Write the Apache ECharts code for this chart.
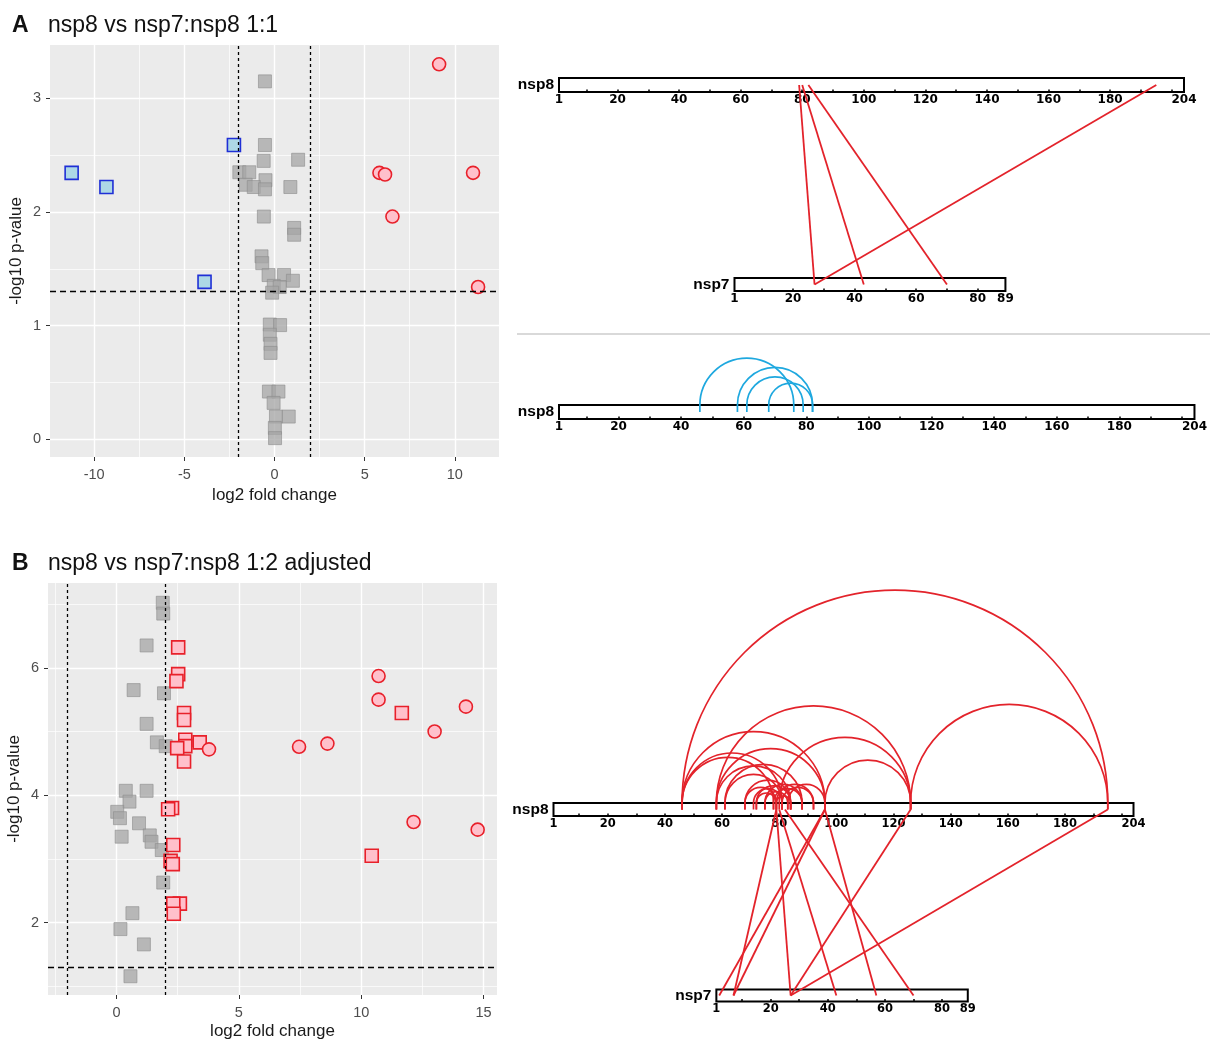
<!DOCTYPE html>
<html><head><meta charset="utf-8">
<script src="https://cdn.jsdelivr.net/npm/echarts@6/dist/echarts.min.js"></script>
<style>html,body{margin:0;padding:0;background:#fff}#c{width:1210px;height:1043px}</style>
</head><body><div id="c"></div>
<script>
// ---------------- data ----------------
// Panel A volcano: [log2 fold change, -log10 p]
const volA_gray = [[-0.53,3.15],[-0.53,2.59],[-0.6,2.45],[1.31,2.46],[-1.95,2.35],[-1.4,2.35],[-0.5,2.28],[-1.6,2.24],[-1.15,2.22],[-0.53,2.2],[0.88,2.22],[-0.59,1.96],[1.09,1.86],[1.09,1.80],[-0.72,1.61],[-0.68,1.55],[-0.33,1.445],[0.53,1.445],[1.02,1.395],[-0.04,1.35],[0.29,1.34],[-0.13,1.29],[-0.26,1.01],[0.31,1.005],[-0.26,0.92],[-0.22,0.84],[-0.22,0.76],[-0.31,0.42],[0.22,0.42],[-0.05,0.32],[0.08,0.2],[0.79,0.2],[0.02,0.1],[0.03,0.01]];
const volA_down = [[-11.25,2.345],[-9.32,2.22],[-3.88,1.385],[-2.25,2.59]];
const volA_up = [[9.13,3.30],[5.82,2.345],[6.13,2.33],[11.01,2.345],[6.54,1.96],[11.29,1.34]];
// Panel B volcano
const volB_gray = [[1.89,7.02],[1.91,6.85],[1.23,6.35],[0.7,5.65],[1.94,5.6],[1.23,5.12],[1.65,4.83],[2.01,4.77],[0.38,4.07],[1.23,4.07],[0.53,3.9],[0.03,3.74],[0.14,3.64],[0.92,3.56],[0.21,3.35],[1.36,3.37],[1.43,3.27],[1.85,3.14],[1.91,2.63],[0.65,2.15],[0.16,1.9],[1.12,1.66],[0.57,1.16]];
const volB_upSq = [[2.52,6.32],[2.52,5.9],[2.45,5.79],[2.76,5.29],[2.76,5.18],[2.81,4.87],[2.81,4.77],[3.4,4.83],[2.48,4.74],[2.76,4.53],[2.27,3.8],[2.11,3.78],[2.32,3.22],[2.21,2.97],[2.3,2.92],[2.59,2.3],[2.32,2.3],[2.34,2.14],[11.66,5.29],[10.43,3.05]];
const volB_upCi = [[3.78,4.72],[7.46,4.76],[8.62,4.81],[10.71,5.87],[10.71,5.5],[14.28,5.39],[13.0,5.0],[12.14,3.58],[14.76,3.46]];
const fcCut = [-2, 2];
const pCut = 1.3;
const volA_xTicks = [-10,-5,0,5,10], volA_xMinor = [-7.5,-2.5,2.5,7.5];
const volA_yTicks = [0,1,2,3], volA_yMinor = [0.5,1.5,2.5];
const volB_xTicks = [0,5,10,15], volB_xMinor = [-2.5,2.5,7.5,12.5];
const volB_yTicks = [2,4,6], volB_yMinor = [1,3,5,7];
// protein bars
const proteins = ['nsp8','nsp7'];
const nsp8Len = 204, nsp7Len = 89;
const nsp8TickVals = [10,20,30,40,50,60,70,80,90,100,110,120,130,140,150,160,170,180,190,200];
const nsp8LabelVals = [1,20,40,60,80,100,120,140,160,180,204];
const nsp7TickVals = [10,20,30,40,50,60,70,80];
const nsp7LabelVals = [1,20,40,60,80,89];
// crosslinks [nsp8 residue, nsp7 residue]
const interA = [[79,27],[80,43],[82,70],[195,27]];
// intra nsp8 links [residue, residue]
const intraA = [[46,76],[58,82],[61,79],[68,82]];
const interB = [[79,27],[80,43],[82,70],[96,57],[96,2],[96,7],[79,7],[126,27],[195,27]];
const intraB = [[46,195],[126,195],[58,126],[46,96],[80,126],[96,126],[46,81],[46,78],[58,96],[58,84],[61,81],[61,88],[68,79],[68,84],[71,81],[72,84],[75,83],[75,88],[78,88],[79,92],[81,92],[83,96],[79,84],[72,79]];

// ---------------- layout ----------------
const FONT = 'Liberation Sans';
const NSP7_SHIFT = 57; // nsp7 drawn aligned under nsp8 residue + shift
const RED = '#e3232b', BLUE = '#1ea8df';

const grids = [], xAxes = [], yAxes = [], series = [];

function volcano(g, xr, yr, xt, xm, yt, ym, xGap) {
  const gi = grids.length;
  grids.push({left:g[0], top:g[1], width:g[2], height:g[3], show:true, backgroundColor:'#ebebeb', borderWidth:0});
  const lab = {color:'#4d4d4d', fontSize:14.5, fontFamily:FONT};
  xAxes.push({type:'value', gridIndex:gi, min:xr[0], max:xr[1], name:'log2 fold change', nameLocation:'middle', nameGap:xGap,
    nameTextStyle:{fontSize:17, color:'#1a1a1a', fontFamily:FONT},
    axisLine:{show:false, onZero:false}, axisTick:{show:true, length:4, customValues:xt, lineStyle:{color:'#333'}},
    axisLabel:Object.assign({customValues:xt, margin:10}, lab),
    splitLine:{show:true, lineStyle:{color:'#fff', width:1.4}}});
  xAxes.push({type:'value', gridIndex:gi, position:'top', min:xr[0], max:xr[1], axisLine:{show:false, onZero:false}, axisLabel:{show:false},
    axisTick:{show:false, customValues:xm}, splitLine:{show:true, lineStyle:{color:'#fff', width:0.7}}});
  yAxes.push({type:'value', gridIndex:gi, min:yr[0], max:yr[1], name:'-log10 p-value', nameLocation:'middle', nameGap:25,
    nameTextStyle:{fontSize:17, color:'#1a1a1a', fontFamily:FONT},
    axisLine:{show:false, onZero:false}, axisTick:{show:true, length:4, customValues:yt, lineStyle:{color:'#333'}},
    axisLabel:Object.assign({customValues:yt, margin:9}, lab),
    splitLine:{show:true, lineStyle:{color:'#fff', width:1.4}}});
  yAxes.push({type:'value', gridIndex:gi, position:'right', min:yr[0], max:yr[1], axisLine:{show:false, onZero:false}, axisLabel:{show:false},
    axisTick:{show:false, customValues:ym}, splitLine:{show:true, lineStyle:{color:'#fff', width:0.7}}});
  return [xAxes.length-2, yAxes.length-2];
}
function scatter(ax, data, sym, fill, stroke, bw, z) {
  series.push({type:'scatter', xAxisIndex:ax[0], yAxisIndex:ax[1], data:data, symbol:sym, symbolSize:13, z:z,
    itemStyle:{color:fill, borderColor:stroke, borderWidth:bw, opacity:1}, emphasis:{disabled:true}, silent:true});
}
function cutLines(ax) {
  series.push({type:'scatter', xAxisIndex:ax[0], yAxisIndex:ax[1], data:[], z:6, silent:true,
    markLine:{silent:true, symbol:'none', animation:false, label:{show:false},
      lineStyle:{color:'#000', width:1.3},
      data:[{xAxis:fcCut[0], lineStyle:{type:[3,3], color:'#000', width:1.3}},
            {xAxis:fcCut[1], lineStyle:{type:[3,3], color:'#000', width:1.3}},
            {yAxis:pCut, lineStyle:{type:[6,4], color:'#000', width:1.3}}]}});
}
// protein bar grid
function bar(name, len, left, top, pxPerRes, height, ticks, labels, fs) {
  const gi = grids.length;
  const width = (len-1)*pxPerRes;
  grids.push({left:left, top:top, width:width, height:height, show:true, backgroundColor:'#fff', borderColor:'#000', borderWidth:2});
  xAxes.push({type:'value', gridIndex:gi, min:1, max:len, axisLine:{show:false, onZero:false}, splitLine:{show:false},
    axisTick:{show:true, inside:true, length:2.5, customValues:ticks, lineStyle:{color:'#000', width:1.5}},
    axisLabel:{customValues:labels, margin:2, fontFamily:'DejaVu Sans', fontWeight:'bold', fontSize:fs, color:'#000'}});
  yAxes.push({type:'category', gridIndex:gi, data:[name], axisLine:{show:false}, axisTick:{show:false},
    axisLabel:{margin:5, fontFamily:FONT, fontWeight:'bold', fontSize:15.5, color:'#000'}});
  return [xAxes.length-1, yAxes.length-1];
}
function linkGrid(left, pxPerRes, top, height) {
  const gi = grids.length;
  grids.push({left:left, top:top, width:(nsp8Len-1)*pxPerRes, height:height, show:false});
  xAxes.push({type:'value', gridIndex:gi, min:1, max:nsp8Len, show:false});
  yAxes.push({type:'value', gridIndex:gi, min:0, max:1, show:false});
  return [xAxes.length-1, yAxes.length-1];
}
function interSeries(ax, data, color) {
  series.push({type:'custom', xAxisIndex:ax[0], yAxisIndex:ax[1], data:data, z:10, silent:true, clip:false,
    renderItem:function(params, api){
      const p1 = api.coord([api.value(0), 1]);
      const p2 = api.coord([api.value(1) + NSP7_SHIFT, 0]);
      return {type:'line', shape:{x1:p1[0], y1:p1[1], x2:p2[0], y2:p2[1]}, style:{stroke:color, lineWidth:1.8}};
    }});
}
function intraSeries(ax, data, color) {
  series.push({type:'custom', xAxisIndex:ax[0], yAxisIndex:ax[1], data:data, z:10, silent:true, clip:false,
    encode:{x:[0,1]},
    renderItem:function(params, api){
      const cs = params.coordSys;
      const xa = api.coord([api.value(0), 0])[0];
      const xb = api.coord([api.value(1), 0])[0];
      const top = cs.y, mid = cs.y + cs.height/2;
      const st = {stroke:color, lineWidth:1.7, fill:'none'};
      return {type:'group', children:[
        {type:'arc', shape:{cx:(xa+xb)/2, cy:top, r:Math.abs(xb-xa)/2, startAngle:Math.PI, endAngle:2*Math.PI, clockwise:true}, style:st},
        {type:'line', shape:{x1:xa, y1:top, x2:xa, y2:mid}, style:{stroke:color, lineWidth:1.7}},
        {type:'line', shape:{x1:xb, y1:top, x2:xb, y2:mid}, style:{stroke:color, lineWidth:1.7}}
      ]};
    }});
}

// volcano A
const vA = volcano([50,45,449,412], [-12.45,12.45], [-0.156,3.47], volA_xTicks, volA_xMinor, volA_yTicks, volA_yMinor, 30);
scatter(vA, volA_gray, 'rect', 'rgba(165,165,165,0.75)', 'rgba(140,140,140,0.6)', 1, 3);
scatter(vA, volA_down, 'rect', '#add8e6', '#1f2fd6', 1.6, 4);
scatter(vA, volA_up, 'circle', '#ffc0cb', '#e8202a', 1.6, 4);
cutLines(vA);
// volcano B
const vB = volcano([48,583,449,412], [-2.8,15.55], [0.866,7.33], volB_xTicks, volB_xMinor, volB_yTicks, volB_yMinor, 28);
scatter(vB, volB_gray, 'rect', 'rgba(165,165,165,0.75)', 'rgba(140,140,140,0.6)', 1, 3);
scatter(vB, volB_upSq, 'rect', '#ffc0cb', '#e8202a', 1.6, 4);
scatter(vB, volB_upCi, 'circle', '#ffc0cb', '#e8202a', 1.6, 4);
cutLines(vB);

// diagram A1 (inter)
const sA = 625/203;
bar(proteins[0], nsp8Len, 559, 78, sA, 14, nsp8TickVals, nsp8LabelVals, 12);
bar(proteins[1], nsp7Len, 559 + NSP7_SHIFT*sA, 278, sA, 13, nsp7TickVals, nsp7LabelVals, 12);
const lA = linkGrid(559, sA, 85, 199.5);
interSeries(lA, interA, RED);
// diagram A2 (intra)
const sA2 = 639/203;
const bA2 = bar(proteins[0], nsp8Len, 559, 405, sA2, 14, nsp8TickVals, nsp8LabelVals, 12);
intraSeries(bA2, intraA, BLUE);
// diagram B
const sB = 580/203;
const bB = bar(proteins[0], nsp8Len, 553.5, 803, sB, 13, nsp8TickVals, nsp8LabelVals, 11.5);
bar(proteins[1], nsp7Len, 553.5 + NSP7_SHIFT*sB, 989.5, sB, 12, nsp7TickVals, nsp7LabelVals, 11.5);
const lB = linkGrid(553.5, sB, 809.5, 186);
interSeries(lB, interB, RED);
intraSeries(bB, intraB, RED);

const chart = echarts.init(document.getElementById('c'), null, {renderer:'canvas'});
chart.setOption({
  animation:false,
  backgroundColor:'#fff',
  title:[
    {text:'A', left:12, top:14, padding:0, textStyle:{fontFamily:FONT, fontWeight:'bold', fontSize:23, color:'#111'}},
    {text:'nsp8 vs nsp7:nsp8 1:1', left:48, top:14, padding:0, textStyle:{fontFamily:FONT, fontWeight:'normal', fontSize:23, color:'#111'}},
    {text:'B', left:12, top:552, padding:0, textStyle:{fontFamily:FONT, fontWeight:'bold', fontSize:23, color:'#111'}},
    {text:'nsp8 vs nsp7:nsp8 1:2 adjusted', left:48, top:552, padding:0, textStyle:{fontFamily:FONT, fontWeight:'normal', fontSize:23, color:'#111'}}
  ],
  graphic:[{type:'line', shape:{x1:517, y1:334, x2:1210, y2:334}, style:{stroke:'#cccccc', lineWidth:1.5}, silent:true}],
  grid:grids, xAxis:xAxes, yAxis:yAxes, series:series
});
</script></body></html>
